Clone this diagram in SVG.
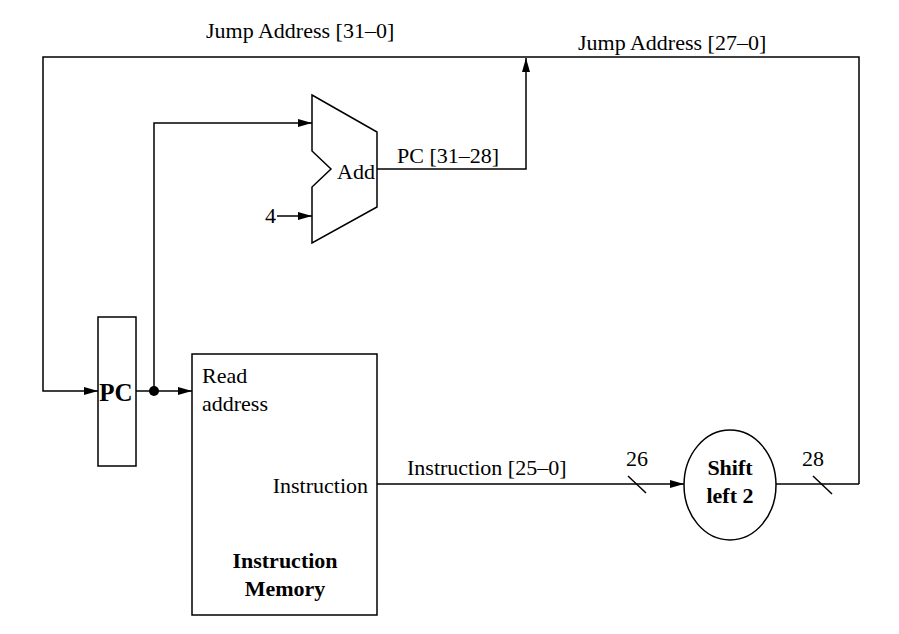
<svg xmlns="http://www.w3.org/2000/svg" width="899" height="634" viewBox="0 0 899 634">
<defs>
<marker id="arr" viewBox="0 0 14 8" refX="14" refY="4" markerWidth="14" markerHeight="8" markerUnits="userSpaceOnUse" orient="auto">
<path d="M0,0 L14,4 L0,8 Z" fill="#000"/>
</marker>
</defs>
<style>
.w{fill:none;stroke:#000;stroke-width:1.5}
.b{fill:#fff;stroke:#000;stroke-width:1.5}
.t{font-family:"Liberation Serif","Times New Roman",serif;font-size:22px;fill:#000}
.bd{font-weight:bold}
</style>
<rect width="899" height="634" fill="#fff"/>
<g id="connectors">
<polyline class="w" points="859,484 859,57 43,57 43,391 98,391" marker-end="url(#arr)"/>
<line class="w" x1="136" y1="391" x2="192" y2="391" marker-end="url(#arr)"/>
<polyline class="w" points="154,391 154,123 312,123" marker-end="url(#arr)"/>
<line class="w" x1="277" y1="216" x2="312" y2="216" marker-end="url(#arr)"/>
<polyline class="w" points="377,169 526,169 526,58" marker-end="url(#arr)"/>
<line class="w" x1="377" y1="484" x2="684" y2="484" marker-end="url(#arr)"/>
<line class="w" x1="776" y1="484" x2="859" y2="484"/>
<line class="w" x1="628" y1="476" x2="646" y2="493"/>
<line class="w" x1="813" y1="476" x2="832" y2="494"/>
<circle cx="154" cy="391" r="5" fill="#000"/>
<text class="t" x="206" y="38">Jump Address [31–0]</text>
<text class="t" x="578" y="50">Jump Address [27–0]</text>
<text class="t" x="397" y="163">PC [31–28]</text>
<text class="t" x="265" y="223">4</text>
<text class="t" x="407" y="475">Instruction [25–0]</text>
<text class="t" x="626" y="466">26</text>
<text class="t" x="802" y="466">28</text>
</g>
<g id="pc">
<rect class="b" x="98" y="317" width="38" height="149"/>
<text class="t bd" x="116" y="401" text-anchor="middle" style="font-size:25px">PC</text>
</g>
<g id="add">
<polygon class="b" points="312,95 377,132 377,207 312,243 312,187 331,169 312,151"/>
<text class="t" x="337" y="179">Add</text>
</g>
<g id="imem">
<rect class="b" x="192" y="354" width="185" height="261"/>
<text class="t" x="202" y="383">Read</text>
<text class="t" x="202" y="411">address</text>
<text class="t" x="368" y="493" text-anchor="end">Instruction</text>
<text class="t bd" x="285" y="568" text-anchor="middle">Instruction</text>
<text class="t bd" x="285" y="596" text-anchor="middle">Memory</text>
</g>
<g id="shift">
<ellipse class="b" cx="730" cy="485" rx="46" ry="55"/>
<text class="t bd" x="730" y="475" text-anchor="middle">Shift</text>
<text class="t bd" x="730" y="503" text-anchor="middle">left 2</text>
</g>
</svg>
